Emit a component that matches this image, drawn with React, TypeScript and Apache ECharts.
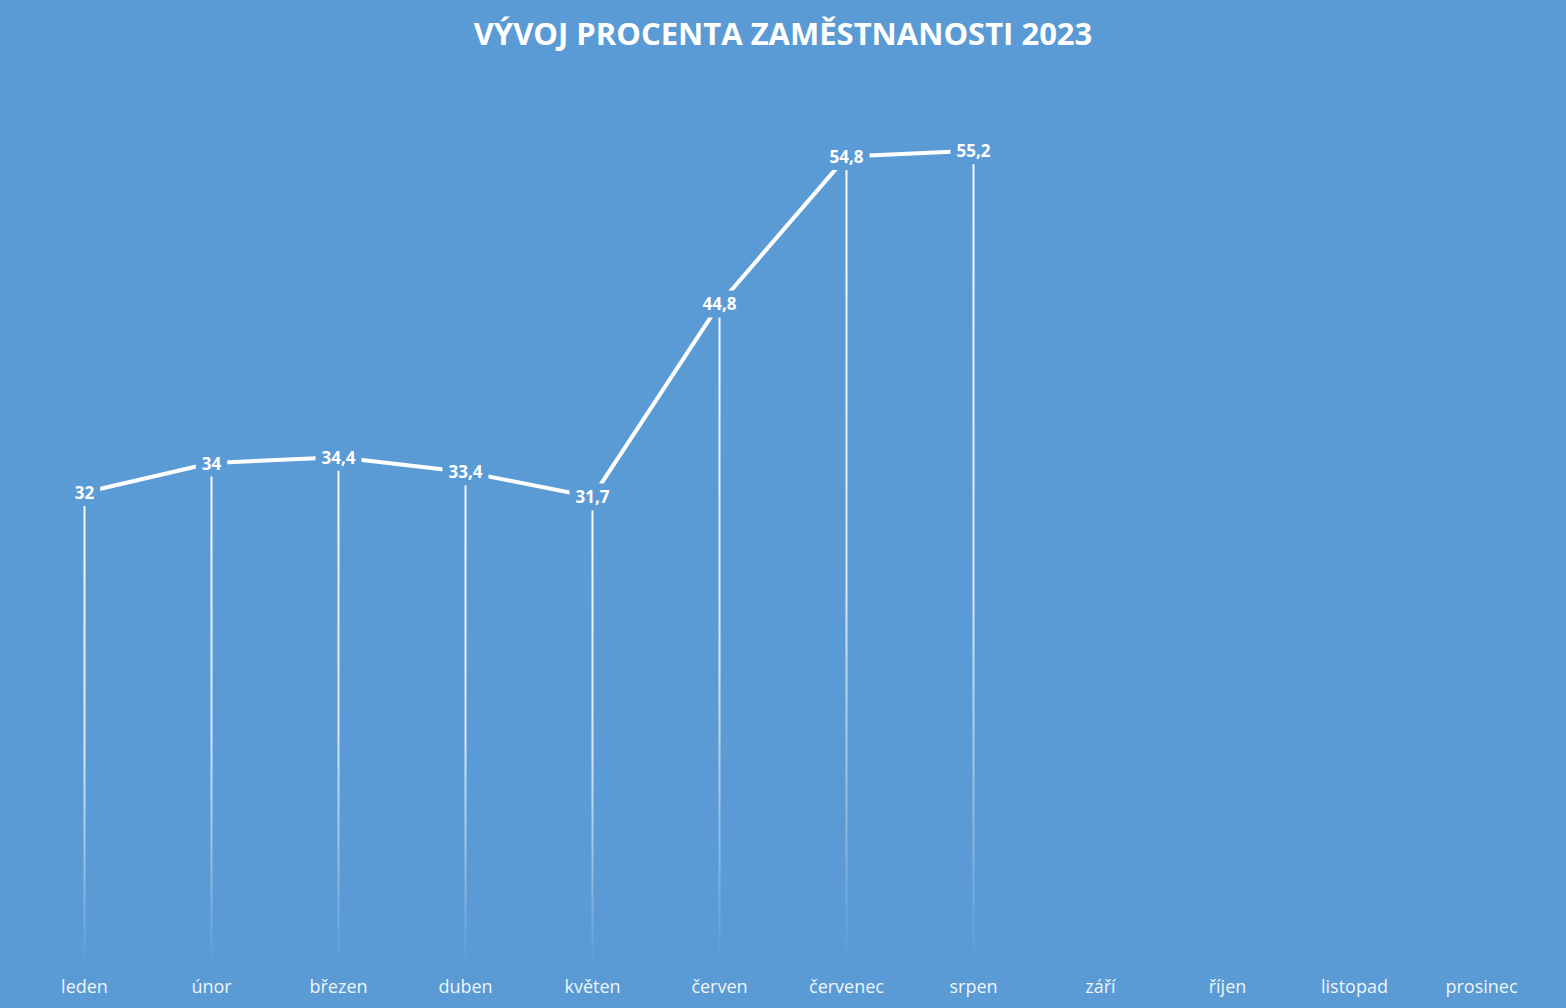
import React, { useEffect, useRef } from "react";
import * as echarts from "echarts";

const months = [
  "leden", "únor", "březen", "duben", "květen", "červen",
  "červenec", "srpen", "září", "říjen", "listopad", "prosinec",
];
const employment: (number | null)[] = [32, 34, 34.4, 33.4, 31.7, 44.8, 54.8, 55.2, null, null, null, null];

const BG = "#5B9BD5";
const FONT = "'Open Sans', Lato, 'DejaVu Sans', sans-serif";

export default function App() {
  const ref = useRef<HTMLDivElement>(null);

  useEffect(() => {
    if (!ref.current) return;
    const chart = echarts.init(ref.current, null, { renderer: "svg" });
    chart.setOption({
      animation: false,
      backgroundColor: BG,
      title: {
        text: "VÝVOJ PROCENTA ZAMĚSTNANOSTI 2023",
        left: "center",
        top: 12,
        textStyle: {
          color: "#ffffff",
          fontFamily: FONT,
          fontWeight: "bold",
          fontSize: 31,
        },
      },
      grid: { left: 21, right: 21, top: 80, bottom: 44, containLabel: false },
      xAxis: {
        type: "category",
        data: months,
        boundaryGap: true,
        axisLine: { show: false },
        axisTick: { show: false },
        axisLabel: {
          color: "rgba(255,255,255,0.92)",
          fontFamily: FONT,
          fontSize: 18,
          margin: 13,
        },
        splitLine: { show: false },
      },
      yAxis: {
        type: "value",
        min: 0,
        max: 60,
        show: false,
        splitLine: { show: false },
      },
      series: [
        {
          // drop lines from each point down to the category axis
          type: "bar",
          data: employment,
          barWidth: 2,
          z: 1,
          silent: true,
          itemStyle: {
            color: new echarts.graphic.LinearGradient(0, 0, 0, 1, [
              { offset: 0, color: "rgba(255,255,255,0.95)" },
              { offset: 0.55, color: "rgba(255,255,255,0.75)" },
              { offset: 1, color: "rgba(255,255,255,0)" },
            ]),
          },
        },
        {
          type: "line",
          data: employment,
          z: 3,
          symbol: "circle",
          symbolSize: 1,
          showSymbol: true,
          itemStyle: { color: "rgba(255,255,255,0)" },
          connectNulls: false,
          lineStyle: { color: "#ffffff", width: 4 },
          label: {
            show: true,
            position: "inside",
            color: "#ffffff",
            fontFamily: FONT,
            fontWeight: "bold",
            fontSize: 17,
            backgroundColor: BG,
            padding: [5, 6, 5, 6],
            formatter: (p: any) => String(p.value).replace(".", ","),
          },
          labelLayout: { hideOverlap: false },
        },
      ],
    });
    return () => chart.dispose();
  }, []);

  return (
    <div
      ref={ref}
      style={{ position: "fixed", left: 0, top: 0, width: 1566, height: 1008 }}
    />
  );
}
